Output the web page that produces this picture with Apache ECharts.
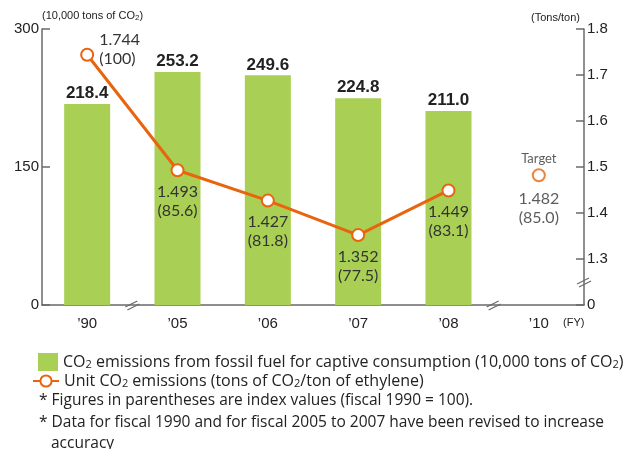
<!DOCTYPE html>
<html>
<head>
<meta charset="utf-8">
<script src="https://cdn.jsdelivr.net/npm/echarts@6/dist/echarts.min.js"></script>
<style>
html,body{margin:0;padding:0;background:#fff;}
#chart{width:628px;height:449px;}
</style>
</head>
<body>
<div id="chart"></div>
<script>
// ---- data ----
const categories = ["\u201990", "\u201905", "\u201906", "\u201907", "\u201908", "\u201910"];
const emissions = [218.4, 253.2, 249.6, 224.8, 211.0, null];
const unitEmissions = [1.744, 1.493, 1.427, 1.352, 1.449, null];
const indexValues = [100, 85.6, 81.8, 77.5, 83.1, null];
const targetUnit = [null, null, null, null, null, 1.482];
const targetIndex = [null, null, null, null, null, 85.0];
const leftTicks = [0, 150, 300];
const rightTicks = [1.2, 1.3, 1.4, 1.5, 1.6, 1.7, 1.8]; // 1.2 shown as broken "0"
const notes = [
  "* Figures in parentheses are index values (fiscal 1990 = 100).",
  "* Data for fiscal 1990 and for fiscal 2005 to 2007 have been revised to increase",
  "accuracy"
];
const barName = "bar";
const lineName = "line";

const GREEN = "#a9cf54";
const ORANGE = "#e8650e";
const AXIS = "#6a6a6a";
const TXT = "#222";
const FONT = "Lato, 'Open Sans', sans-serif";
const LFONT = "'Open Sans', Lato, sans-serif";
const NFONT = "'Liberation Sans', Arial, sans-serif";

const chart = echarts.init(document.getElementById('chart'));

const lineData = unitEmissions.map((v, i) => {
  if (v == null) return null;
  const lbl = i === 0
    ? { position: 'right', distance: 5, offset: [0, -5], align: 'left' }
    : { position: 'bottom', distance: 5 };
  return { value: v, label: lbl };
});

const fmtIdx = (x) => (x >= 100 ? String(Math.round(x)) : x.toFixed(1));

const option = {
  animation: false,
  backgroundColor: '#fff',
  grid: { left: 42, right: 44, top: 29, bottom: 144, containLabel: false },
  legend: [
    {
      data: [barName], left: 33, top: 348, itemWidth: 20, itemHeight: 18,
      icon: 'rect',
      formatter: () => 'CO{s|2} emissions from fossil fuel for captive consumption (10,000 tons of CO{s|2})',
      textStyle: { color: TXT, fontSize: 16, fontFamily: LFONT,
        rich: { s: { fontSize: 11, fontFamily: LFONT, color: TXT, padding: [5, 0, 0, 0] } } }
    },
    {
      data: [lineName], left: 27, top: 368, itemWidth: 26, itemHeight: 14,
      formatter: () => 'Unit CO{s|2} emissions (tons of CO{s|2}/ton of ethylene)',
      textStyle: { color: TXT, fontSize: 16, fontFamily: LFONT,
        rich: { s: { fontSize: 11, fontFamily: LFONT, color: TXT, padding: [5, 0, 0, 0] } } }
    }
  ],
  xAxis: {
    type: 'category',
    data: categories,
    axisLine: { show: true, lineStyle: { color: AXIS, width: 1.5 } },
    axisTick: { show: false },
    axisLabel: { color: TXT, fontSize: 15, fontFamily: NFONT, margin: 11 }
  },
  yAxis: [
    {
      type: 'value', min: leftTicks[0], max: leftTicks[leftTicks.length - 1], interval: leftTicks[1] - leftTicks[0],
      position: 'left',
      name: '(10,000 tons of CO{s|2})',
      nameLocation: 'end', nameGap: 6,
      nameTextStyle: { color: TXT, fontSize: 11, fontFamily: NFONT, align: 'left', verticalAlign: 'bottom',
        rich: { s: { fontSize: 8, fontFamily: NFONT, color: TXT, padding: [4, 0, 0, 0] } } },
      axisLine: { show: true, lineStyle: { color: AXIS, width: 1.5 } },
      axisTick: { show: true, inside: true, length: 8, lineStyle: { color: AXIS, width: 1.5 } },
      splitLine: { show: false },
      axisLabel: { color: TXT, fontSize: 15, fontFamily: NFONT, margin: 3 }
    },
    {
      type: 'value', min: rightTicks[0], max: rightTicks[rightTicks.length - 1], interval: 0.1,
      position: 'right',
      name: '(Tons/ton)',
      nameLocation: 'end', nameGap: 6,
      nameTextStyle: { color: TXT, fontSize: 11, fontFamily: NFONT, align: 'right', verticalAlign: 'bottom', padding: [0, 4, 0, 0] },
      axisLine: { show: true, lineStyle: { color: AXIS, width: 1.5 } },
      axisTick: { show: true, inside: true, length: 8, lineStyle: { color: AXIS, width: 1.5 } },
      splitLine: { show: false },
      axisLabel: {
        color: TXT, fontSize: 15, fontFamily: NFONT, margin: 3,
        formatter: (v) => (Math.abs(v - rightTicks[0]) < 1e-9 ? '0' : v.toFixed(1))
      }
    }
  ],
  series: [
    {
      name: barName, type: 'bar', yAxisIndex: 0, data: emissions, barWidth: 46,
      itemStyle: { color: GREEN },
      label: { show: true, position: 'top', distance: 2, color: TXT, fontSize: 17, fontWeight: 'bold', fontFamily: NFONT,
        formatter: (p) => p.value.toFixed(1) },
      z: 1
    },
    {
      name: lineName, type: 'line', yAxisIndex: 1, data: lineData,
      lineStyle: { color: ORANGE, width: 3 },
      symbol: 'circle', symbolSize: 12,
      itemStyle: { color: '#fff', borderColor: ORANGE, borderWidth: 2 },
      label: {
        show: true, color: '#333', fontSize: 16, fontFamily: FONT, lineHeight: 19, align: 'center',
        formatter: (p) => p.value.toFixed(3) + '\n(' + fmtIdx(indexValues[p.dataIndex]) + ')'
      },
      z: 3
    },
    {
      name: 'target', type: 'scatter', yAxisIndex: 1, data: targetUnit,
      symbol: 'emptyCircle', symbolSize: 12,
      itemStyle: { color: ORANGE, borderColor: ORANGE, borderWidth: 1.5 },
      label: {
        show: true, position: 'bottom', distance: 7, color: '#333', fontSize: 16, fontFamily: FONT, lineHeight: 19,
        formatter: (p) => p.value.toFixed(3) + '\n(' + fmtIdx(targetIndex[p.dataIndex]) + ')'
      },
      z: 3
    },
    {
      name: 'targetTitle', type: 'scatter', yAxisIndex: 1, data: targetUnit,
      symbolSize: 0, silent: true,
      label: { show: true, position: 'top', distance: 10, color: '#333', fontSize: 13, fontFamily: FONT,
        formatter: () => 'Target' },
      z: 3
    }
  ],
  graphic: []
};

chart.setOption(option);

// break marks and footnotes, positioned via the chart's own scales
function breakMark(cx, cy) {
  return {
    type: 'group', x: cx, y: cy, z: 100,
    children: [
      { type: 'polygon', shape: { points: [[-7, 2], [5, -4], [7, -1], [-5, 5]] }, style: { fill: '#fff' } },
      { type: 'line', shape: { x1: -7, y1: 2, x2: 5, y2: -4 }, style: { stroke: AXIS, lineWidth: 1.2 } },
      { type: 'line', shape: { x1: -5, y1: 5, x2: 7, y2: -1 }, style: { stroke: AXIS, lineWidth: 1.2 } }
    ]
  };
}
const p0 = chart.convertToPixel({ xAxisIndex: 0, yAxisIndex: 0 }, [0, 0]);
const p1 = chart.convertToPixel({ xAxisIndex: 0, yAxisIndex: 0 }, [1, 0]);
const p4 = chart.convertToPixel({ xAxisIndex: 0, yAxisIndex: 0 }, [4, 0]);
const p5 = chart.convertToPixel({ xAxisIndex: 0, yAxisIndex: 0 }, [5, 0]);
const rb = chart.convertToPixel({ yAxisIndex: 1 }, (rightTicks[0] + rightTicks[1]) / 2);
const gridRight = 628 - 44;

const graphics = [
  breakMark((p0[0] + p1[0]) / 2, p0[1]),
  breakMark((p4[0] + p5[0]) / 2, p0[1]),
  breakMark(gridRight, rb),
  { type: 'text', x: 563, y: 323, style: { text: '(FY)', fill: TXT, font: '11px ' + NFONT, verticalAlign: 'middle' } },
  { type: 'text', x: 39, y: 401, style: { text: notes[0], fill: TXT, font: '15.5px ' + LFONT, verticalAlign: 'middle' } },
  { type: 'text', x: 39, y: 423, style: { text: notes[1], fill: TXT, font: '15.5px ' + LFONT, verticalAlign: 'middle' } },
  { type: 'text', x: 51, y: 444, style: { text: notes[2], fill: TXT, font: '15.5px ' + LFONT, verticalAlign: 'middle' } }
];
chart.setOption({ graphic: graphics });
</script>
</body>
</html>
